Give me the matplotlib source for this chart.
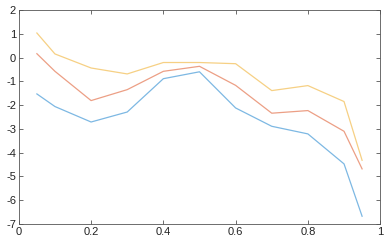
import matplotlib
matplotlib.use("Agg")
import matplotlib.pyplot as plt

plt.rcParams['font.family'] = ['Liberation Sans', 'DejaVu Sans']

x = [0.05, 0.1, 0.2, 0.3, 0.4, 0.5, 0.6, 0.7, 0.8, 0.9, 0.95]
y_blue = [-1.53, -2.06, -2.71, -2.29, -0.89, -0.60, -2.12, -2.89, -3.21, -4.47, -6.67]
y_red = [0.16, -0.58, -1.81, -1.35, -0.58, -0.37, -1.17, -2.34, -2.23, -3.10, -4.68]
y_yellow = [1.03, 0.15, -0.44, -0.69, -0.21, -0.21, -0.26, -1.39, -1.18, -1.85, -4.32]
xticks = [0, 0.2, 0.4, 0.6, 0.8, 1]
yticks = [-7, -6, -5, -4, -3, -2, -1, 0, 1, 2]

fig = plt.figure(figsize=(3.84, 2.42), dpi=100)
ax = fig.add_axes([0.049, 0.074, 0.941, 0.885])
ax.plot(x, y_blue, color="#7db8e3", lw=0.9)
ax.plot(x, y_red, color="#ec9f85", lw=0.9)
ax.plot(x, y_yellow, color="#f6d084", lw=0.9)
ax.set_xlim(0, 1)
ax.set_ylim(-7, 2)
ax.set_xticks(xticks)
ax.set_xticklabels(["0", "0.2", "0.4", "0.6", "0.8", "1"])
ax.set_yticks(yticks)
ax.set_yticklabels([str(t) for t in yticks])
ax.tick_params(direction="in", top=True, right=True, labelsize=8, length=3,
               width=0.6, color="#555555", labelcolor="#222222", pad=2)
for s in ax.spines.values():
    s.set_linewidth(0.6)
    s.set_color("#555555")
fig.savefig("out.png", dpi=100)
